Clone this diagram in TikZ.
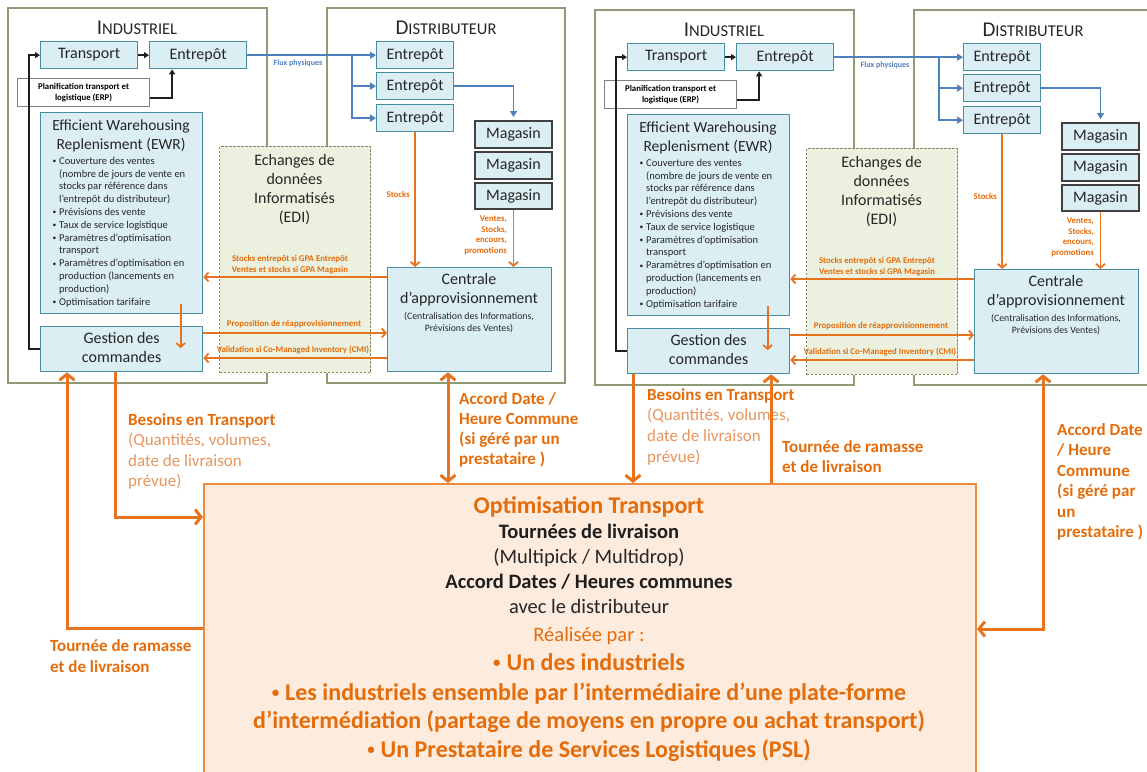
\documentclass[tikz,border=0pt]{standalone}
\usepackage{fontspec}
\setmainfont{Carlito}
\usetikzlibrary{arrows.meta}
\definecolor{bfill}{HTML}{DBEEF4}
\definecolor{bbord}{HTML}{4A8CA0}
\definecolor{mbord}{HTML}{404040}
\definecolor{pgray}{HTML}{7F7F7F}
\definecolor{fcol}{HTML}{8E9B76}
\definecolor{efill}{HTML}{EBF1DE}
\definecolor{ecol}{HTML}{7E8F64}
\definecolor{tcol}{HTML}{262626}
\definecolor{oc}{HTML}{E8731E}
\definecolor{otext}{HTML}{E46C0A}
\definecolor{olight}{HTML}{E8955E}
\definecolor{pfill}{HTML}{FDEBDD}
\definecolor{pbord}{HTML}{F08A3C}
\definecolor{bluec}{HTML}{4F81BD}
\definecolor{blkc}{HTML}{1E1E1E}
\newcommand{\fsz}[2]{\fontsize{#1}{#2}\selectfont}
\newcommand{\mlines}[2]{\begin{tabular}[t]{@{}#1@{}}#2\end{tabular}}
\newcommand{\ewrb}{\makebox[6.5pt][l]{\raisebox{0.6pt}{\fsz{7.5}{8}•}}}
\newcommand{\ewri}{\hspace*{6.5pt}}
\newcommand{\bigbul}{\raisebox{2.5pt}{\fsz{15}{16}•}\hspace*{6pt}}
\tikzset{
  bbox/.style={draw=bbord, fill=bfill, line width=1.3pt, inner sep=0pt, anchor=north west, text=tcol, font=\fsz{16}{19.5}},
  magbox/.style={bbox, draw=mbord, line width=2pt},
  planbox/.style={draw=pgray, fill=white, line width=1.2pt, inner sep=0pt, anchor=north west, text=black, font=\fsz{8.8}{11.2}\bfseries},
  edibox/.style={draw=ecol, fill=efill, dash pattern=on 2.5pt off 1.5pt, line width=1.2pt, inner sep=0pt, anchor=north west},
  frm/.style={draw=fcol, line width=1.5pt},
  ttl/.style={anchor=base, text=tcol, inner sep=0pt},
  txt/.style={text=tcol, inner sep=0pt},
  olab/.style={text=otext, inner sep=0pt, font=\fsz{8.8}{10.5}\bfseries},
  flab/.style={text=bluec, inner sep=0pt, font=\fsz{8}{10}\bfseries},
  blk/.style={draw=blkc, line width=1.8pt, -{Triangle[length=5pt,width=6pt]}},
  blu/.style={draw=bluec, line width=1.8pt, -{Triangle[length=6pt,width=7pt]}},
  oin/.style={draw=oc, line width=1.8pt, -{Straight Barb[length=4pt,width=9pt]}},
  obig/.style={draw=oc, line width=3pt, >={Straight Barb[length=6pt,width=15pt]}},
  blab/.style={inner sep=0pt, font=\fsz{17}{20.5}},
  pbox/.style={draw=pbord, fill=pfill, line width=2pt, anchor=north west, inner sep=0pt},
  pl/.style={anchor=base, inner sep=0pt},
}
\begin{document}
\begin{tikzpicture}[x=1pt, y=-1pt]
\useasboundingbox (0,0) rectangle (1147,771);
\fill[white] (0,0) rectangle (1147,771);
\clip (0,0) rectangle (1147,771);

\foreach \p/\dx/\dy in {L/0/0,R/587/2}{
\begin{scope}[shift={(\dx,\dy)}, name prefix/.expanded=\p-]
  \draw[frm] (8,8) rectangle (267,383);
  \draw[frm] (327,8) rectangle (565,383);
  \node[edibox, minimum width=151pt, minimum height=226pt] (edi) at (219,146) {};
  \node[txt, anchor=base, font=\fsz{16}{19}] (edit) at (294.5,165.8) {\mlines{c}{Echanges de\\données\\Informatisés\\(EDI)}};
  \node[ttl] (ti) at (137,34) {\fsz{21}{25}I\fsz{16.5}{20}NDUSTRIEL};
  \node[ttl] (td) at (446,34) {\fsz{21}{25}D\fsz{16.5}{20}ISTRIBUTEUR};
  % industriel
  \node[bbox, minimum width=97pt, minimum height=27pt] (trans) at (40,41) {Transport};
  \node[bbox, minimum width=97pt, minimum height=27pt] (ient) at (149,41) {Entrepôt};
  \node[planbox, minimum width=132pt, minimum height=28pt] (plan) at (17,78) {\mlines{c}{Planification transport et\\logistique (ERP)}};
  \node[bbox, minimum width=162pt, minimum height=201pt] (ewr) at (40,112) {};
  \node[txt, anchor=base, font=\fsz{15.5}{19}] (ewrt) at (121,130.7) {\mlines{c}{Efficient Warehousing\\Replenisment (EWR)}};
  \node[txt, anchor=base west, font=\fsz{10.5}{12.8}] (ewrl) at (52.5,164.2) {\mlines{l}{\ewrb Couverture des ventes\\
\ewri(nombre de jours de vente en\\
\ewri stocks par référence dans\\
\ewri l’entrepôt du distributeur)\\
\ewrb Prévisions des vente\\
\ewrb Taux de service logistique\\
\ewrb Paramètres d’optimisation\\
\ewri transport\\
\ewrb Paramètres d’optimisation en\\
\ewri production (lancements en\\
\ewri production)\\
\ewrb Optimisation tarifaire}};
  \node[bbox, minimum width=162pt, minimum height=45pt] (gest) at (40,326) {\mlines{c}{Gestion des\\commandes}};
  % distributeur
  \node[bbox, minimum width=77pt, minimum height=27pt] (e1) at (376,41) {Entrepôt};
  \node[bbox, minimum width=77pt, minimum height=27pt] (e2) at (376,72) {Entrepôt};
  \node[bbox, minimum width=77pt, minimum height=27pt] (e3) at (376,104) {Entrepôt};
  \node[magbox, minimum width=77pt, minimum height=27pt] (m1) at (474,120) {Magasin};
  \node[magbox, minimum width=77pt, minimum height=27pt] (m2) at (474,151) {Magasin};
  \node[magbox, minimum width=77pt, minimum height=26pt] (m3) at (474,182) {Magasin};
  \node[bbox, minimum width=164pt, minimum height=104pt] (cent) at (387,267) {};
  \node[txt, anchor=base, font=\fsz{16}{19}] (centt) at (469,284.8) {\mlines{c}{Centrale\\d’approvisionnement}};
  \node[txt, anchor=base, font=\fsz{9.8}{12}] (cents) at (469,319) {\mlines{c}{(Centralisation des Informations,\\Prévisions des Ventes)}};
  % labels
  \node[flab, anchor=base] (lflux) at (298,65.5) {Flux physiques};
  \node[olab, anchor=base east] (lstk) at (410,197.7) {Stocks};
  \node[olab, anchor=base east] (lven) at (507,221.7) {\mlines{r}{Ventes,\\Stocks,\\encours,\\promotions}};
  \node[olab, anchor=base] (lgpa) at (290,261.6) {\mlines{c}{Stocks entrepôt si GPA Entrepôt\\Ventes et stocks si GPA Magasin}};
  \node[olab, anchor=base] (lprop) at (294,326.6) {Proposition de réapprovisionnement};
  \node[olab, anchor=base] (lval) at (293,352.6) {Validation si Co-Managed Inventory (CMI)};
  % black connectors
  \draw[blk] (gest.west) -- ([xshift=-11pt]gest.west) |- (trans.west);
  \draw[blk] (trans.east) -- (ient.west);
  \draw[blk] ([yshift=-5.5pt]plan.east) -| ([xshift=-26pt]ient.south);
  % blue connectors
  \draw[blu] (ient.east) -- (e1.west);
  \draw[blu] (e1.west -| 352,0) |- (e3.west);
  \draw[blu] (e2.west -| 352,0) -- (e2.west);
  \draw[blu, shorten >=3pt] (e2.east) -| (m1.north);
  % orange inner connectors
  \draw[oin] (e3.south) -- (e3.south |- cent.north);
  \draw[oin] (m3.south) -- (m3.south |- cent.north);
  \draw[oin] (cent.west |- 0,277) -- (ewr.east |- 0,277);
  \draw[oin] (gest.east |- 0,333) -- (cent.west |- 0,333);
  \draw[oin] (cent.west |- 0,358) -- (gest.east |- 0,358);
  \draw[oin] ([xshift=59pt,yshift=10pt]ewr.south) -- ([xshift=59pt,yshift=1pt]gest.center);
\end{scope}
}

% bottom box
\node[pbox, minimum width=772pt, minimum height=320pt] (opt) at (203,483) {};
\node[pl, text=otext, font=\fsz{24}{29}\bfseries] (t1) at (589,513.2) {Optimisation Transport};
\node[pl, text=blkc, font=\fsz{20.5}{25}\bfseries] (t2) at (589,538.2) {Tournées de livraison};
\node[pl, text=tcol, font=\fsz{20.5}{25}] (t3) at (589,563.2) {(Multipick / Multidrop)};
\node[pl, text=blkc, font=\fsz{20.5}{25}\bfseries] (t4) at (589,588.2) {Accord Dates / Heures communes};
\node[pl, text=tcol, font=\fsz{20.5}{25}] (t5) at (589,613.2) {avec le distributeur};
\node[pl, text=otext, font=\fsz{20.5}{25}] (t6) at (589,641.2) {Réalisée par :};
\node[pl, text=otext, font=\fsz{24}{29}\bfseries] (t7) at (589,670.2) {\bigbul Un des industriels};
\node[pl, text=otext, font=\fsz{24}{29}\bfseries] (t8) at (589,700.2) {\bigbul Les industriels ensemble par l’intermédiaire d’une plate-forme};
\node[pl, text=otext, font=\fsz{24}{29}\bfseries] (t9) at (589,728.2) {d’intermédiation (partage de moyens en propre ou achat transport)};
\node[pl, text=otext, font=\fsz{24}{29}\bfseries] (t10) at (589,757.2) {\bigbul Un Prestataire de Services Logistiques (PSL)};

% bottom labels
\node[blab, anchor=base west, text=olight] (lb1) at (128,425) {\mlines{l}{\textbf{\textcolor{otext}{Besoins en Transport}}\\(Quantités, volumes,\\date de livraison\\prévue)}};
\node[blab, anchor=base west, text=otext, font=\fsz{17}{20.3}\bfseries] (la1) at (459,404) {\mlines{l}{Accord Date /\\Heure Commune\\(si géré par un\\prestataire )}};
\node[blab, anchor=base west, text=otext, font=\fsz{17}{21}\bfseries] (lt1) at (50,651) {\mlines{l}{Tournée de ramasse\\et de livraison}};
\node[blab, anchor=base west, text=olight, font=\fsz{17}{20.7}] (lb2) at (647,400) {\mlines{l}{\textbf{\textcolor{otext}{Besoins en Transport}}\\(Quantités, volumes,\\date de livraison\\prévue)}};
\node[blab, anchor=base west, text=otext, font=\fsz{17}{20}\bfseries] (lt2) at (782,452) {\mlines{l}{Tournée de ramasse\\et de livraison}};
\node[blab, anchor=base west, text=otext, font=\fsz{17}{20.5}\bfseries] (la2) at (1057,435) {\mlines{l}{Accord Date\\/ Heure\\Commune\\(si géré par\\un\\prestataire )}};

% bottom connectors
\draw[obig, ->] (opt.west |- 0,628) -| (L-gest.south -| 67,0);
\draw[obig, ->] (L-gest.south -| 115,0) |- (opt.west |- 0,517);
\draw[obig, <->] (L-cent.south -| 448,0) -- (opt.north -| 448,0);
\draw[obig, ->] (R-gest.south -| 633,0) -- (opt.north -| 633,0);
\draw[obig, ->] (opt.north -| 771,0) -- (R-gest.south -| 771,0);
\draw[obig, <->] (R-cent.south -| 1043,0) |- (opt.east |- 0,629);
\end{tikzpicture}
\end{document}
